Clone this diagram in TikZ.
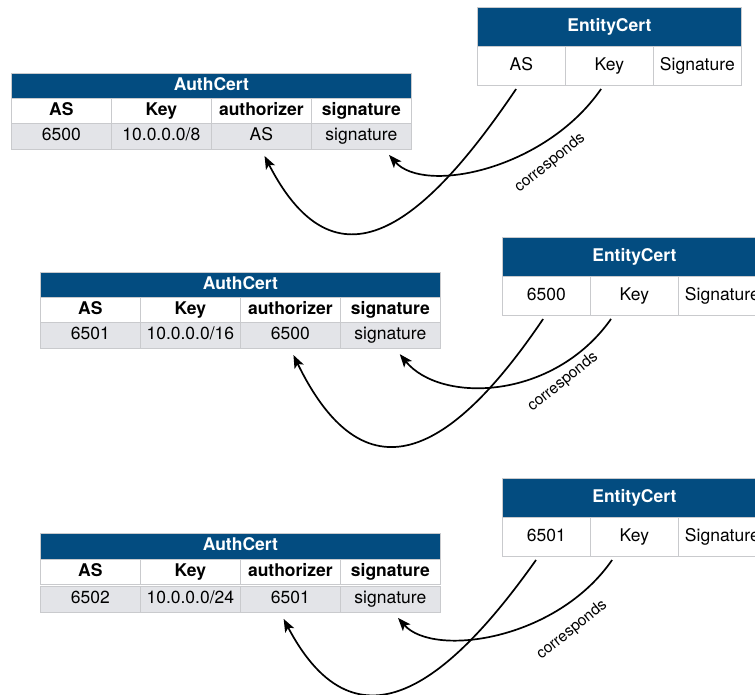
\documentclass[tikz,border=0pt]{standalone}
\usepackage{fontspec}
\setmainfont{TeX Gyre Heros}
\usetikzlibrary{
  arrows.meta % Stealth 箭头
}
\definecolor{certblue}{HTML}{034C80}
\definecolor{gridgray}{HTML}{C9CACD}
\definecolor{datagray}{HTML}{E3E4E8}
\tikzset{
  cell/.style={draw=gridgray, line width=0.7pt, inner sep=0pt, anchor=north west,
    text height=12.5pt, text depth=3.5pt, font=\fontsize{17.5}{20}\selectfont},
  titlecell/.style={cell, fill=certblue, text=white, font=\bfseries\fontsize{17.5}{20}\selectfont},
  headcell/.style={cell, fill=white, minimum width=100, minimum height=25, font=\bfseries\fontsize{17.5}{20}\selectfont},
  datacell/.style={cell, fill=datagray, minimum width=100, minimum height=26},
  entcell/.style={cell, fill=white, minimum width=88, minimum height=39},
  corrtext/.style={font=\fontsize{15.5}{18}\selectfont, rotate=39},
  link/.style={-{Stealth[length=13pt, width=10pt, inset=3pt]}, line width=1.7pt,
    shorten <=4pt, shorten >=7pt}
}
\begin{document}
\begin{tikzpicture}[x=1pt, y=-1pt]
  \useasboundingbox (0,0) rectangle (755,695);

  % 第一组: AuthCert
  \node[titlecell, minimum width=400, minimum height=25] (t1) at (11,73) {AuthCert};
  \node[headcell] (h1as)   at (11,98)  {AS};
  \node[headcell] (h1key)  at (111,98) {Key};
  \node[headcell] (h1auth) at (211,98) {authorizer};
  \node[headcell] (h1sig)  at (311,98) {signature};
  \node[datacell] (a1as)   at (11,123)  {6500};
  \node[datacell] (a1key)  at (111,123) {10.0.0.0/8};
  \node[datacell] (a1auth) at (211,123) {AS};
  \node[datacell] (a1sig)  at (311,123) {signature};

  % 第一组: EntityCert
  \node[titlecell, minimum width=264, minimum height=39] (e1) at (477,7) {EntityCert};
  \node[entcell] (e1as)  at (477,46) {AS};
  \node[entcell] (e1key) at (565,46) {Key};
  \node[entcell] (e1sig) at (653,46) {Signature};

  % 第一组: 对应关系
  \draw[link] ([xshift=-3pt]e1as.south) .. controls +(-88,130) and +(78,152) .. (a1auth.south);
  \draw[link] ([xshift=-6pt]e1key.south) .. controls +(-58,84) and +(40,45) .. ([xshift=23pt]a1sig.south);
  \node[corrtext] (c1) at (550,163) {corresponds};

  % 第二组: AuthCert
  \node[titlecell, minimum width=400, minimum height=25] (t2) at (40,272) {AuthCert};
  \node[headcell] (h2as)   at (40,297)  {AS};
  \node[headcell] (h2key)  at (140,297) {Key};
  \node[headcell] (h2auth) at (240,297) {authorizer};
  \node[headcell] (h2sig)  at (340,297) {signature};
  \node[datacell] (a2as)   at (40,322)  {6501};
  \node[datacell] (a2key)  at (140,322) {10.0.0.0/16};
  \node[datacell] (a2auth) at (240,322) {6500};
  \node[datacell] (a2sig)  at (340,322) {signature};

  % 第二组: EntityCert
  \node[titlecell, minimum width=264, minimum height=39] (e2) at (502,237) {EntityCert};
  \node[entcell] (e2as)  at (502,276) {6500};
  \node[entcell] (e2key) at (590,276) {Key};
  \node[entcell] (e2sig) at (678,276) {Signature};

  % 第二组: 对应关系
  \draw[link] ([xshift=-1pt]e2as.south) .. controls +(-88,130) and +(78,160) .. (a2auth.south);
  \draw[link] ([xshift=-21pt]e2key.south) .. controls +(-60,85) and +(45,55) .. ([xshift=5pt]a2sig.south);
  \node[corrtext] (c2) at (563,382) {corresponds};

  % 第三组: AuthCert
  \node[titlecell, minimum width=400, minimum height=26] (t3) at (40,533) {AuthCert};
  \node[headcell] (h3as)   at (40,559)  {AS};
  \node[headcell] (h3key)  at (140,559) {Key};
  \node[headcell] (h3auth) at (240,559) {authorizer};
  \node[headcell] (h3sig)  at (340,559) {signature};
  \node[datacell] (a3as)   at (40,586)  {6502};
  \node[datacell] (a3key)  at (140,586) {10.0.0.0/24};
  \node[datacell] (a3auth) at (240,586) {6501};
  \node[datacell] (a3sig)  at (340,586) {signature};

  % 第三组: EntityCert
  \node[titlecell, minimum width=264, minimum height=39] (e3) at (502,478) {EntityCert};
  \node[entcell] (e3as)  at (502,517) {6501};
  \node[entcell] (e3key) at (590,517) {Key};
  \node[entcell] (e3sig) at (678,517) {Signature};

  % 第三组: 对应关系
  \draw[link] ([xshift=-8pt]e3as.south) .. controls +(-85,120) and +(78,148) .. ([xshift=-10pt]a3auth.south);
  \draw[link] ([xshift=-20pt]e3key.south) .. controls +(-58,84) and +(40,45) .. ([xshift=3pt]a3sig.south);
  \node[corrtext] (c3) at (572,630) {corresponds};
\end{tikzpicture}
\end{document}
